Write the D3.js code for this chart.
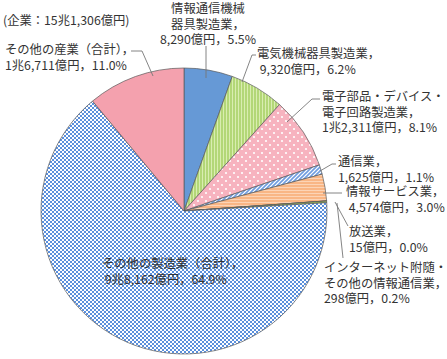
<!DOCTYPE html>
<html>
<head>
<meta charset="utf-8">
<script src="https://cdn.jsdelivr.net/npm/d3@7"></script>
<style>
  body { margin: 0; background: #fff; }
  text { font-family: "Noto Sans CJK JP", sans-serif; font-size: 12.3px; fill: #333; }
</style>
</head>
<body>
<svg id="chart"></svg>
<script>
// 業種別の売上高（億円）と構成比
let categories = ["情報通信機械器具製造業", "電気機械器具製造業", "電子部品・デバイス・電子回路製造業",
    "通信業", "情報サービス業", "放送業", "インターネット附随・その他の情報通信業",
    "その他の製造業（合計）", "その他の産業（合計）"]
let values = [8290, 9320, 12311, 1625, 4574, 15, 298, 98162, 16711]
let amountLabels = ["8,290億円", "9,320億円", "1兆2,311億円", "1,625億円", "4,574億円",
    "15億円", "298億円", "9兆8,162億円", "1兆6,711億円"]
let shares = ["5.5%", "6.2%", "8.1%", "1.1%", "3.0%", "0.0%", "0.2%", "64.9%", "11.0%"]
let totalLabel = "(企業：15兆1,306億円)"

// ラベルの行分け
let labelLines = [
    ["情報通信機械", "器具製造業，", amountLabels[0] + "，" + shares[0]],
    ["電気機械器具製造業，", " " + amountLabels[1] + "，" + shares[1]],
    ["電子部品・デバイス・", "電子回路製造業，", amountLabels[2] + "，" + shares[2]],
    ["通信業，", amountLabels[3] + "，" + shares[3]],
    ["情報サービス業，", " " + amountLabels[4] + "，" + shares[4]],
    ["放送業，", amountLabels[5] + "，" + shares[5]],
    ["インターネット附随・", "その他の情報通信業，", amountLabels[6] + "，" + shares[6]],
    ["その他の製造業（合計），", " " + amountLabels[7] + "，" + shares[7]],
    ["その他の産業（合計），", amountLabels[8] + "，" + shares[8]]
]

let width = 447
let height = 359
let cx = 184
let cy = 211
let radius = 143
let lineH = 15.5

// ラベル位置と引き出し線
let labelPos = [
    { x: 208, y: 10, anchor: "middle", leader: [[206, 78], [206, 46]] },
    { x: 257, y: 55, anchor: "start", leader: [[242, 82], [252, 55], [256, 55]] },
    { x: 322, y: 98, anchor: "start", leader: [[287, 122], [312, 99], [320, 99]] },
    { x: 338, y: 163, anchor: "start", leader: [[320, 171], [332, 164], [336, 164]] },
    { x: 346, y: 193, anchor: "start", leader: [[323, 193], [342, 193]] },
    { x: 349, y: 233, anchor: "start", leader: [[335, 202], [348, 226]] },
    { x: 324, y: 269, anchor: "start", leader: [[337, 203], [343, 258]] },
    { x: 102, y: 265, anchor: "start", leader: null },
    { x: 5, y: 51, anchor: "start", leader: [[131, 51], [142, 51], [153, 76]] }
]

let svg = d3.select("#chart").attr("width", width).attr("height", height)
let defs = svg.append("defs")

// 塗りパターン
let addPattern = (id, w, h, bg, draw) => {
    let p = defs.append("pattern").attr("id", id)
        .attr("patternUnits", "userSpaceOnUse")
        .attr("width", w).attr("height", h)
    p.append("rect").attr("width", w).attr("height", h).attr("fill", bg)
    draw(p)
}

addPattern("pGreen", 3, 3, "#b3d777", (p) => {
    p.append("rect").attr("x", 0).attr("y", 0).attr("width", 1).attr("height", 3).attr("fill", "#d9edb0")
})
addPattern("pDots", 8, 8, "#f7b3bf", (p) => {
    p.append("circle").attr("cx", 2).attr("cy", 2).attr("r", 1.1).attr("fill", "#fff")
    p.append("circle").attr("cx", 6).attr("cy", 6).attr("r", 1.1).attr("fill", "#fff")
})
addPattern("pDiag", 4, 4, "#ffffff", (p) => {
    p.append("path").attr("d", "M-1,1 L1,-1 M0,4 L4,0 M3,5 L5,3")
        .attr("stroke", "#6f9de0").attr("stroke-width", 1.6)
})
addPattern("pOrange", 3, 3, "#f9b685", (p) => {
    p.append("rect").attr("x", 0).attr("y", 0).attr("width", 3).attr("height", 1).attr("fill", "#fcd4b6")
})
addPattern("pCheck", 4, 4, "#ffffff", (p) => {
    p.append("rect").attr("x", 0).attr("y", 0).attr("width", 2).attr("height", 2).attr("fill", "#5a8fdc")
    p.append("rect").attr("x", 2).attr("y", 2).attr("width", 2).attr("height", 2).attr("fill", "#5a8fdc")
})

let fills = ["#6699d6", "url(#pGreen)", "url(#pDots)", "url(#pDiag)", "url(#pOrange)",
    "#7f7f7f", "#9bbb59", "url(#pCheck)", "#f4a1ae"]

let pie = d3.pie().sort(null).value((d) => d)
let arc = d3.arc().innerRadius(0).outerRadius(radius)

let g = svg.append("g").attr("transform", "translate(" + cx + "," + cy + ")")

g.selectAll("path")
    .data(pie(values))
    .enter()
    .append("path")
    .attr("d", arc)
    .attr("fill", (d, i) => fills[i])
    .attr("stroke", "#5a5a5a")
    .attr("stroke-width", 0.7)
    .attr("stroke-linejoin", "round")

// 引き出し線
let line = d3.line()
labelPos.forEach((p) => {
    if (p.leader) {
        svg.append("path")
            .attr("d", line(p.leader))
            .attr("fill", "none")
            .attr("stroke", "#777")
            .attr("stroke-width", 0.9)
    }
})

// ラベル
labelLines.forEach((lines, i) => {
    let p = labelPos[i]
    let t = svg.append("text")
        .attr("x", p.x)
        .attr("y", p.y)
        .attr("text-anchor", p.anchor)
        .attr("dominant-baseline", "middle")
        .attr("xml:space", "preserve")
    lines.forEach((s, k) => {
        t.append("tspan")
            .attr("x", p.x)
            .attr("y", p.y + k * lineH)
            .text(s)
    })
})

svg.append("text")
    .attr("x", 3)
    .attr("y", 22)
    .attr("dominant-baseline", "middle")
    .text(totalLabel)
</script>
</body>
</html>
